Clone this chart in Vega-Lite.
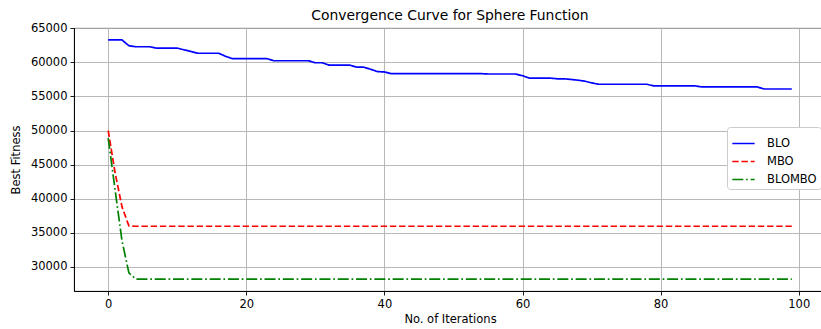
{
  "$schema": "https://vega.github.io/schema/vega-lite/v6.json",
  "autosize": {"type": "none"},
  "width": 752,
  "height": 263,
  "padding": {"left": 74, "top": 28, "right": 0, "bottom": 38},
  "background": "white",
  "title": {"text": "Convergence Curve for Sphere Function", "fontSize": 13.9, "font": "DejaVu Sans", "fontWeight": "normal", "anchor": "middle", "offset": -1, "color": "black"},
  "data": {"values": [
    {"iter":0,"BLO":63300,"MBO":50000,"BLOMBO":48900},
    {"iter":1,"BLO":63300,"MBO":43800,"BLOMBO":41300},
    {"iter":2,"BLO":63300,"MBO":38800,"BLOMBO":33800},
    {"iter":3,"BLO":62450,"MBO":36000,"BLOMBO":29100},
    {"iter":4,"BLO":62300,"MBO":35950,"BLOMBO":28200},
    {"iter":5,"BLO":62300,"MBO":35950,"BLOMBO":28200},
    {"iter":6,"BLO":62300,"MBO":35950,"BLOMBO":28200},
    {"iter":7,"BLO":62100,"MBO":35950,"BLOMBO":28200},
    {"iter":8,"BLO":62100,"MBO":35950,"BLOMBO":28200},
    {"iter":9,"BLO":62100,"MBO":35950,"BLOMBO":28200},
    {"iter":10,"BLO":62100,"MBO":35950,"BLOMBO":28200},
    {"iter":11,"BLO":61850,"MBO":35950,"BLOMBO":28200},
    {"iter":12,"BLO":61600,"MBO":35950,"BLOMBO":28200},
    {"iter":13,"BLO":61350,"MBO":35950,"BLOMBO":28200},
    {"iter":14,"BLO":61350,"MBO":35950,"BLOMBO":28200},
    {"iter":15,"BLO":61350,"MBO":35950,"BLOMBO":28200},
    {"iter":16,"BLO":61350,"MBO":35950,"BLOMBO":28200},
    {"iter":17,"BLO":60900,"MBO":35950,"BLOMBO":28200},
    {"iter":18,"BLO":60550,"MBO":35950,"BLOMBO":28200},
    {"iter":19,"BLO":60550,"MBO":35950,"BLOMBO":28200},
    {"iter":20,"BLO":60550,"MBO":35950,"BLOMBO":28200},
    {"iter":21,"BLO":60550,"MBO":35950,"BLOMBO":28200},
    {"iter":22,"BLO":60550,"MBO":35950,"BLOMBO":28200},
    {"iter":23,"BLO":60550,"MBO":35950,"BLOMBO":28200},
    {"iter":24,"BLO":60250,"MBO":35950,"BLOMBO":28200},
    {"iter":25,"BLO":60250,"MBO":35950,"BLOMBO":28200},
    {"iter":26,"BLO":60250,"MBO":35950,"BLOMBO":28200},
    {"iter":27,"BLO":60250,"MBO":35950,"BLOMBO":28200},
    {"iter":28,"BLO":60250,"MBO":35950,"BLOMBO":28200},
    {"iter":29,"BLO":60250,"MBO":35950,"BLOMBO":28200},
    {"iter":30,"BLO":59950,"MBO":35950,"BLOMBO":28200},
    {"iter":31,"BLO":59950,"MBO":35950,"BLOMBO":28200},
    {"iter":32,"BLO":59600,"MBO":35950,"BLOMBO":28200},
    {"iter":33,"BLO":59600,"MBO":35950,"BLOMBO":28200},
    {"iter":34,"BLO":59600,"MBO":35950,"BLOMBO":28200},
    {"iter":35,"BLO":59600,"MBO":35950,"BLOMBO":28200},
    {"iter":36,"BLO":59300,"MBO":35950,"BLOMBO":28200},
    {"iter":37,"BLO":59300,"MBO":35950,"BLOMBO":28200},
    {"iter":38,"BLO":59000,"MBO":35950,"BLOMBO":28200},
    {"iter":39,"BLO":58650,"MBO":35950,"BLOMBO":28200},
    {"iter":40,"BLO":58600,"MBO":35950,"BLOMBO":28200},
    {"iter":41,"BLO":58350,"MBO":35950,"BLOMBO":28200},
    {"iter":42,"BLO":58350,"MBO":35950,"BLOMBO":28200},
    {"iter":43,"BLO":58350,"MBO":35950,"BLOMBO":28200},
    {"iter":44,"BLO":58350,"MBO":35950,"BLOMBO":28200},
    {"iter":45,"BLO":58350,"MBO":35950,"BLOMBO":28200},
    {"iter":46,"BLO":58350,"MBO":35950,"BLOMBO":28200},
    {"iter":47,"BLO":58350,"MBO":35950,"BLOMBO":28200},
    {"iter":48,"BLO":58350,"MBO":35950,"BLOMBO":28200},
    {"iter":49,"BLO":58350,"MBO":35950,"BLOMBO":28200},
    {"iter":50,"BLO":58350,"MBO":35950,"BLOMBO":28200},
    {"iter":51,"BLO":58350,"MBO":35950,"BLOMBO":28200},
    {"iter":52,"BLO":58350,"MBO":35950,"BLOMBO":28200},
    {"iter":53,"BLO":58350,"MBO":35950,"BLOMBO":28200},
    {"iter":54,"BLO":58350,"MBO":35950,"BLOMBO":28200},
    {"iter":55,"BLO":58300,"MBO":35950,"BLOMBO":28200},
    {"iter":56,"BLO":58300,"MBO":35950,"BLOMBO":28200},
    {"iter":57,"BLO":58300,"MBO":35950,"BLOMBO":28200},
    {"iter":58,"BLO":58300,"MBO":35950,"BLOMBO":28200},
    {"iter":59,"BLO":58300,"MBO":35950,"BLOMBO":28200},
    {"iter":60,"BLO":58050,"MBO":35950,"BLOMBO":28200},
    {"iter":61,"BLO":57700,"MBO":35950,"BLOMBO":28200},
    {"iter":62,"BLO":57700,"MBO":35950,"BLOMBO":28200},
    {"iter":63,"BLO":57700,"MBO":35950,"BLOMBO":28200},
    {"iter":64,"BLO":57700,"MBO":35950,"BLOMBO":28200},
    {"iter":65,"BLO":57600,"MBO":35950,"BLOMBO":28200},
    {"iter":66,"BLO":57600,"MBO":35950,"BLOMBO":28200},
    {"iter":67,"BLO":57500,"MBO":35950,"BLOMBO":28200},
    {"iter":68,"BLO":57400,"MBO":35950,"BLOMBO":28200},
    {"iter":69,"BLO":57250,"MBO":35950,"BLOMBO":28200},
    {"iter":70,"BLO":57000,"MBO":35950,"BLOMBO":28200},
    {"iter":71,"BLO":56800,"MBO":35950,"BLOMBO":28200},
    {"iter":72,"BLO":56800,"MBO":35950,"BLOMBO":28200},
    {"iter":73,"BLO":56800,"MBO":35950,"BLOMBO":28200},
    {"iter":74,"BLO":56800,"MBO":35950,"BLOMBO":28200},
    {"iter":75,"BLO":56800,"MBO":35950,"BLOMBO":28200},
    {"iter":76,"BLO":56800,"MBO":35950,"BLOMBO":28200},
    {"iter":77,"BLO":56800,"MBO":35950,"BLOMBO":28200},
    {"iter":78,"BLO":56800,"MBO":35950,"BLOMBO":28200},
    {"iter":79,"BLO":56550,"MBO":35950,"BLOMBO":28200},
    {"iter":80,"BLO":56550,"MBO":35950,"BLOMBO":28200},
    {"iter":81,"BLO":56550,"MBO":35950,"BLOMBO":28200},
    {"iter":82,"BLO":56550,"MBO":35950,"BLOMBO":28200},
    {"iter":83,"BLO":56550,"MBO":35950,"BLOMBO":28200},
    {"iter":84,"BLO":56550,"MBO":35950,"BLOMBO":28200},
    {"iter":85,"BLO":56550,"MBO":35950,"BLOMBO":28200},
    {"iter":86,"BLO":56400,"MBO":35950,"BLOMBO":28200},
    {"iter":87,"BLO":56400,"MBO":35950,"BLOMBO":28200},
    {"iter":88,"BLO":56400,"MBO":35950,"BLOMBO":28200},
    {"iter":89,"BLO":56400,"MBO":35950,"BLOMBO":28200},
    {"iter":90,"BLO":56400,"MBO":35950,"BLOMBO":28200},
    {"iter":91,"BLO":56400,"MBO":35950,"BLOMBO":28200},
    {"iter":92,"BLO":56400,"MBO":35950,"BLOMBO":28200},
    {"iter":93,"BLO":56400,"MBO":35950,"BLOMBO":28200},
    {"iter":94,"BLO":56400,"MBO":35950,"BLOMBO":28200},
    {"iter":95,"BLO":56100,"MBO":35950,"BLOMBO":28200},
    {"iter":96,"BLO":56100,"MBO":35950,"BLOMBO":28200},
    {"iter":97,"BLO":56100,"MBO":35950,"BLOMBO":28200},
    {"iter":98,"BLO":56100,"MBO":35950,"BLOMBO":28200},
    {"iter":99,"BLO":56100,"MBO":35950,"BLOMBO":28200}
  ]},
  "transform": [{"fold": ["BLO", "MBO", "BLOMBO"], "as": ["series", "value"]}],
  "mark": {"type": "line", "strokeWidth": 1.7, "clip": true},
  "encoding": {
    "x": {"field": "iter", "type": "quantitative",
      "scale": {"domain": [-4.95, 103.95], "nice": false, "zero": false},
      "axis": {"values": [0, 20, 40, 60, 80, 100], "title": "No. of Iterations", "titlePadding": 4}},
    "y": {"field": "value", "type": "quantitative",
      "scale": {"domain": [26445, 65055], "nice": false, "zero": false},
      "axis": {"values": [30000, 35000, 40000, 45000, 50000, 55000, 60000, 65000], "format": "d", "title": "Best Fitness", "titlePadding": 9}},
    "color": {"field": "series", "type": "nominal",
      "scale": {"domain": ["BLO", "MBO", "BLOMBO"], "range": ["#0000ff", "#ff0000", "#008000"]},
      "legend": {"title": null, "orient": "none", "legendX": 653, "legendY": 99}},
    "strokeDash": {"field": "series", "type": "nominal",
      "scale": {"domain": ["BLO", "MBO", "BLOMBO"], "range": [[1, 0], [6.4, 2.8], [11, 2.8, 1.7, 2.8]]},
      "legend": {"title": null, "orient": "none", "legendX": 653, "legendY": 99}}
  },
  "config": {
    "font": "DejaVu Sans",
    "view": {"stroke": "black", "strokeWidth": 0.9},
    "axis": {
      "labelFont": "DejaVu Sans", "labelFontSize": 11.5, "labelColor": "black",
      "titleFont": "DejaVu Sans", "titleFontSize": 11.5, "titleFontWeight": "normal", "titleColor": "black",
      "domainColor": "black", "domainWidth": 0.9,
      "tickColor": "black", "tickWidth": 0.9, "tickSize": 4,
      "labelPadding": 3,
      "grid": true, "gridColor": "#b0b0b0", "gridWidth": 0.9
    },
    "legend": {
      "fillColor": "white", "strokeColor": "#cccccc", "cornerRadius": 3, "padding": 4,
      "labelFont": "DejaVu Sans", "labelFontSize": 11.5, "labelColor": "black",
      "symbolType": "stroke", "symbolStrokeWidth": 1.7, "symbolSize": 500, "labelOffset": 11, "rowPadding": -6
    }
  }
}
